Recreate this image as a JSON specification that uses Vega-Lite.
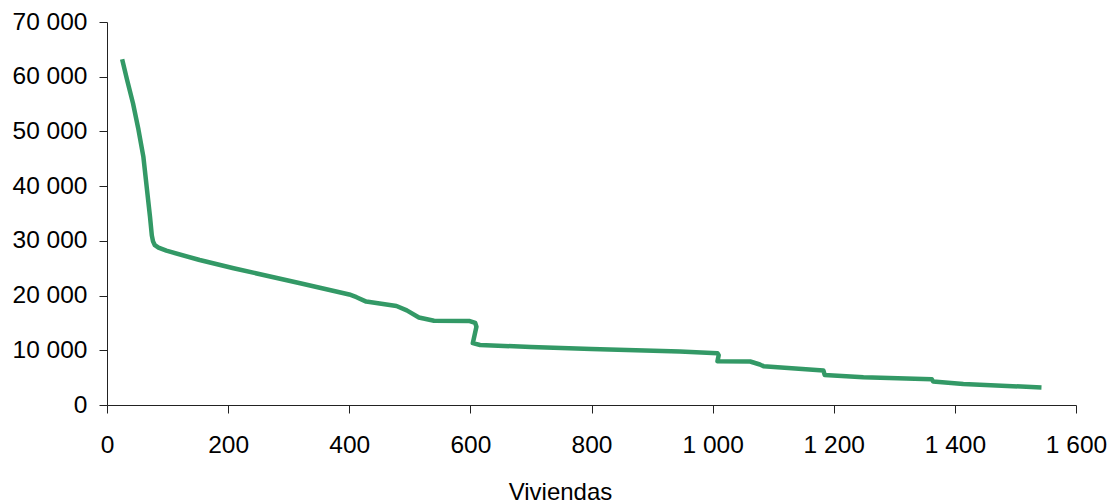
{
  "$schema": "https://vega.github.io/schema/vega-lite/v6.json",
  "autosize": "none",
  "width": 969,
  "height": 383,
  "padding": {"left": 107, "top": 22, "right": 35, "bottom": 98},
  "background": "white",
  "config": {
    "view": {"stroke": null},
    "axis": {
      "labelFont": "Liberation Sans",
      "titleFont": "Liberation Sans",
      "labelFontSize": 24.5,
      "titleFontSize": 24,
      "titleFontWeight": "normal",
      "labelColor": "#000000",
      "titleColor": "#000000",
      "domainColor": "#222222",
      "tickColor": "#222222",
      "tickSize": 8,
      "grid": false
    }
  },
  "data": {
    "values": [
      {"i": 1, "viviendas": 25, "valor": 63200},
      {"i": 2, "viviendas": 33, "valor": 59500},
      {"i": 3, "viviendas": 43, "valor": 55100},
      {"i": 4, "viviendas": 52, "valor": 50300},
      {"i": 5, "viviendas": 60, "valor": 45400},
      {"i": 6, "viviendas": 65.5, "valor": 39900},
      {"i": 7, "viviendas": 71, "valor": 34400},
      {"i": 8, "viviendas": 74, "valor": 31000},
      {"i": 9, "viviendas": 76, "valor": 29900},
      {"i": 10, "viviendas": 79, "valor": 29200},
      {"i": 11, "viviendas": 85, "valor": 28750},
      {"i": 12, "viviendas": 98, "valor": 28200},
      {"i": 13, "viviendas": 153, "valor": 26500},
      {"i": 14, "viviendas": 209, "valor": 25000},
      {"i": 15, "viviendas": 319, "valor": 22250},
      {"i": 16, "viviendas": 400, "valor": 20200},
      {"i": 17, "viviendas": 412, "valor": 19700},
      {"i": 18, "viviendas": 428, "valor": 18900},
      {"i": 19, "viviendas": 478, "valor": 18100},
      {"i": 20, "viviendas": 495, "valor": 17300},
      {"i": 21, "viviendas": 515, "valor": 16000},
      {"i": 22, "viviendas": 540, "valor": 15400},
      {"i": 23, "viviendas": 599, "valor": 15350},
      {"i": 24, "viviendas": 608, "valor": 15000},
      {"i": 25, "viviendas": 610, "valor": 14300},
      {"i": 26, "viviendas": 604, "valor": 11300},
      {"i": 27, "viviendas": 616, "valor": 10970},
      {"i": 28, "viviendas": 700, "valor": 10600},
      {"i": 29, "viviendas": 800, "valor": 10250},
      {"i": 30, "viviendas": 946, "valor": 9800},
      {"i": 31, "viviendas": 1008, "valor": 9450},
      {"i": 32, "viviendas": 1010, "valor": 9100},
      {"i": 33, "viviendas": 1008, "valor": 8000},
      {"i": 34, "viviendas": 1062, "valor": 7950},
      {"i": 35, "viviendas": 1078, "valor": 7400},
      {"i": 36, "viviendas": 1084, "valor": 7100},
      {"i": 37, "viviendas": 1183, "valor": 6300},
      {"i": 38, "viviendas": 1185, "valor": 5500},
      {"i": 39, "viviendas": 1249, "valor": 5050},
      {"i": 40, "viviendas": 1362, "valor": 4700},
      {"i": 41, "viviendas": 1364, "valor": 4300},
      {"i": 42, "viviendas": 1414, "valor": 3850},
      {"i": 43, "viviendas": 1543, "valor": 3200}
    ]
  },
  "mark": {"type": "line", "color": "#339966", "strokeWidth": 4.5, "strokeJoin": "round", "strokeCap": "butt"},
  "encoding": {
    "x": {
      "field": "viviendas",
      "type": "quantitative",
      "scale": {"domain": [0, 1600], "nice": false, "zero": true},
      "axis": {
        "values": [0, 200, 400, 600, 800, 1000, 1200, 1400, 1600],
        "labelExpr": "replace(format(datum.value, ','), ',', ' ')",
        "labelBaseline": "alphabetic",
        "labelPadding": 39.5,
        "labelFlush": false,
        "labelOverlap": false,
        "title": "Viviendas",
        "titleX": 453,
        "titleY": 94,
        "titleAlign": "center",
        "titleAnchor": null,
        "titleBaseline": "alphabetic"
      }
    },
    "y": {
      "field": "valor",
      "type": "quantitative",
      "scale": {"domain": [0, 70000], "nice": false},
      "axis": {
        "values": [0, 10000, 20000, 30000, 40000, 50000, 60000, 70000],
        "labelExpr": "replace(format(datum.value, ','), ',', ' ')",
        "labelPadding": 12,
        "labelFlush": false,
        "labelOverlap": false,
        "title": null
      }
    },
    "order": {"field": "i", "type": "quantitative"}
  }
}
